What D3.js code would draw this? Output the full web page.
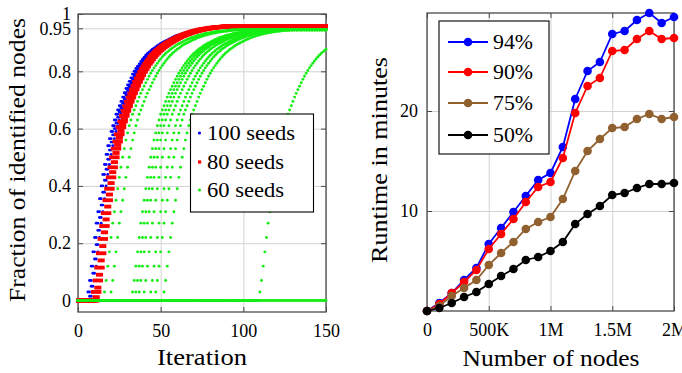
<!DOCTYPE html>
<html><head><meta charset="utf-8">
<script src="https://cdn.jsdelivr.net/npm/d3@7"></script>
<style>
body{margin:0;background:#fff}
svg{display:block}
</style>
</head><body>
<svg id="c" width="682" height="373"></svg>
<script>
// ===================== LEFT CHART DATA =====================
const iterations = d3.range(0, 151);
// fraction of identified nodes per iteration after a run's onset
const profile100a = [0,.03,.07,.12,.17,.22,.27,.31,.355,.40,.44,.475,.51,.54,.565,.59,.61,.63,.65,.665,.68,.695,.71,.725,.74,.752,.765,.777,.79,.80,.81,.818,.826,.834,.842,.849,.856,.862,.867,.872,.877,.881,.885,.889,.893,.897,.90,.903,.906,.909,.912,.915,.918,.921,.923,.925,.927,.929,.931,.933,.935,.936,.938,.939,.941,.942,.944,.945,.946,.947,.948,.949,.95,.95,.951,.952,.952,.953,.953,.954,.954,.954,.955];
const profile100b = [0,.015,.05,.095,.145,.195,.245,.29,.333,.378,.42,.458,.493,.525,.553,.578,.60,.62,.64,.658,.673,.688,.703,.718,.732,.746,.758,.771,.784,.795,.805,.814,.822,.83,.838,.846,.853,.859,.865,.87,.875,.879,.883,.887,.891,.895,.899,.902,.905,.908,.911,.914,.917,.92,.922,.924,.926,.928,.93,.932,.934,.936,.937,.939,.94,.942,.943,.944,.945,.946,.947,.948,.949,.95,.951,.951,.952,.953,.953,.954,.954,.955];
const profile80a = [0,.03,.07,.115,.165,.215,.26,.305,.35,.39,.43,.465,.50,.53,.555,.58,.605,.625,.645,.662,.678,.694,.709,.723,.737,.75,.763,.775,.787,.798,.808,.817,.826,.834,.842,.85,.857,.863,.869,.874,.879,.884,.888,.892,.896,.90,.903,.907,.91,.913,.916,.919,.922,.924,.927,.929,.931,.933,.935,.937,.939,.94,.942,.943,.945,.946,.947,.948,.949,.95,.951,.952,.952,.953,.954,.954,.955,.955,.956,.956,.957];
const profile80b = [0,.012,.045,.09,.14,.19,.238,.283,.328,.37,.41,.448,.483,.515,.543,.568,.592,.615,.635,.654,.67,.686,.701,.716,.73,.744,.757,.769,.781,.792,.803,.813,.821,.83,.838,.846,.853,.86,.866,.871,.876,.881,.886,.89,.894,.898,.901,.905,.908,.911,.914,.917,.92,.923,.925,.928,.93,.932,.934,.936,.938,.939,.941,.942,.944,.945,.946,.947,.948,.949,.95,.951,.952,.953,.953,.954,.955,.955,.956,.956,.957];
const profile60 = [0,.03,.07,.12,.17,.22,.27,.31,.35,.39,.43,.465,.50,.53,.56,.585,.61,.63,.65,.665,.68,.695,.71,.723,.736,.748,.76,.772,.783,.793,.803,.812,.82,.828,.836,.843,.85,.856,.862,.867,.872,.877,.881,.885,.889,.893,.896,.899,.902,.905,.908,.911,.913,.916,.918,.92,.922,.924,.926,.927,.929,.93,.932,.933,.934,.935,.936,.937,.938,.939,.94,.94,.941,.942,.942,.943,.943,.944,.944,.945];
// runs: iteration at which each run leaves 0 (null = never) and which profile it follows
const onsets100 = [5, 6, 6, 7, 8];
const profiles100 = [profile100a, profile100b, profile100a, profile100b, profile100a];
const onsets80 = [8, 9, 10, 11, 12];
const profiles80 = [profile80a, profile80b, profile80a, profile80b, profile80a];
const onsets60 = [15, 19, 32, 34, 36, 39, 43, 46, 51, 109, null];
const seedLabels = ["100 seeds", "80 seeds", "60 seeds"];
const leftXTicks = [0, 50, 100, 150];
const leftYTicks = [0, 0.2, 0.4, 0.6, 0.8, 0.95, 1];

// ===================== RIGHT CHART DATA =====================
const nodes = [0,100000,200000,300000,400000,500000,600000,700000,800000,900000,1000000,1100000,1200000,1300000,1400000,1500000,1600000,1700000,1800000,1900000,2000000];
const runtime94 = [0,0.8,1.8,3.1,4.3,6.7,8.3,9.9,11.5,13.1,13.8,16.4,21.2,24.0,24.9,27.7,28.0,29.1,29.8,28.8,29.4];
const runtime90 = [0,0.7,1.8,2.9,4.1,6.2,7.7,9.2,10.9,12.4,12.9,15.3,19.8,22.5,23.3,26.0,26.1,27.2,28.0,27.2,27.3];
const runtime75 = [0,0.5,1.5,2.3,3.1,4.6,5.8,6.9,8.2,8.9,9.4,11.2,14.0,16.0,17.2,18.3,18.4,19.2,19.7,19.2,19.4];
const runtime50 = [0,0.3,0.8,1.4,1.9,2.7,3.5,4.2,5.1,5.4,6.0,6.9,8.7,9.7,10.5,11.6,11.8,12.3,12.7,12.7,12.8];
const percentLabels = ["94%", "90%", "75%", "50%"];
const rightXTicks = [0, 500000, 1000000, 1500000, 2000000];
const rightXTickLabels = ["0", "500K", "1M", "1.5M", "2M"];
const rightYTicks = [10, 20];

// ===================== DRAWING =====================
const FONT = "Liberation Serif";
const TICK_FS = 18, LEG_FS = 22, LAB_FS = 24;
const svg = d3.select("#c");
const FRAME = "#4a4a4a", GRID = "#d2d2d2";
const BLUE = "#0000ff", RED = "#ff0000", GREEN = "#14ee14", BROWN = "#91602f", BLACK = "#000000";

function styleAxis(g) {
  g.attr("font-family", FONT).attr("font-size", TICK_FS);
  g.select(".domain").remove();
  g.selectAll(".tick line").attr("stroke", FRAME).attr("stroke-width", 1);
  g.selectAll(".tick text").attr("fill", "#000");
}
function frame(x, y, xTicks, yTicks, xFmt, yFmt, yPad) {
  const [x0, x1] = x.range(), [y0, y1] = y.range();
  const g = svg.append("g");
  g.append("g").attr("transform", `translate(0,${y0})`)
    .call(d3.axisBottom(x).tickValues(xTicks).tickSize(-(y0 - y1)).tickFormat(""))
    .call(a => { a.select(".domain").remove(); a.selectAll("line").attr("stroke", GRID).attr("stroke-width", 1); });
  g.append("g").attr("transform", `translate(${x0},0)`)
    .call(d3.axisLeft(y).tickValues(yTicks).tickSize(-(x1 - x0)).tickFormat(""))
    .call(a => { a.select(".domain").remove(); a.selectAll("line").attr("stroke", GRID).attr("stroke-width", 1); });
  g.append("g").attr("transform", `translate(0,${y0})`)
    .call(d3.axisBottom(x).tickValues(xTicks).tickSizeInner(-5).tickSizeOuter(0).tickPadding(12).tickFormat(xFmt))
    .call(styleAxis);
  g.append("g").attr("transform", `translate(0,${y1})`)
    .call(d3.axisTop(x).tickValues(xTicks).tickSizeInner(-5).tickSizeOuter(0).tickFormat(""))
    .call(styleAxis);
  g.append("g").attr("transform", `translate(${x0},0)`)
    .call(d3.axisLeft(y).tickValues(yTicks).tickSizeInner(-5).tickSizeOuter(0).tickPadding(yPad).tickFormat(yFmt))
    .call(styleAxis);
  g.append("g").attr("transform", `translate(${x1},0)`)
    .call(d3.axisRight(y).tickValues(yTicks).tickSizeInner(-5).tickSizeOuter(0).tickFormat(""))
    .call(styleAxis);
  g.append("rect").attr("x", x0).attr("y", y1).attr("width", x1 - x0).attr("height", y0 - y1)
    .attr("fill", "none").attr("stroke", FRAME).attr("stroke-width", 1.3);
}

// ---------- left ----------
const xL = d3.scaleLinear().domain([0, 150]).range([78, 326]);
const yL = d3.scaleLinear().domain([-0.04, 1]).range([312, 14]);
frame(xL, yL, leftXTicks, leftYTicks, d3.format("d"), d => d3.format("")(d), 7);

function runSeries(profile, onset) {
  return iterations.map(t => ({ t, v: (onset === null || t < onset) ? 0 : profile[Math.min(t - onset, profile.length - 1)] }));
}
const gData = svg.append("g");
onsets100.forEach((o, k) => {
  gData.append("g").selectAll("circle").data(runSeries(profiles100[k], o)).join("circle")
    .attr("cx", d => xL(d.t)).attr("cy", d => yL(d.v)).attr("r", 1.45).attr("fill", BLUE);
});
onsets80.forEach((o, k) => {
  gData.append("g").selectAll("rect").data(runSeries(profiles80[k], o)).join("rect")
    .attr("x", d => xL(d.t) - 1.9).attr("y", d => yL(d.v) - 1.9).attr("width", 3.8).attr("height", 3.8).attr("fill", RED);
});
onsets60.forEach(o => {
  gData.append("g").selectAll("circle").data(runSeries(profile60, o)).join("circle")
    .attr("cx", d => xL(d.t)).attr("cy", d => yL(d.v)).attr("r", 1.45).attr("fill", GREEN);
});

// left legend
const lg = svg.append("g");
lg.append("rect").attr("x", 190.5).attr("y", 114).attr("width", 123).attr("height", 98)
  .attr("fill", "#fff").attr("stroke", "#000").attr("stroke-width", 1.1);
const legRowsL = [133, 162, 190];
lg.append("circle").attr("cx", 199.5).attr("cy", legRowsL[0]).attr("r", 1.6).attr("fill", BLUE);
lg.append("rect").attr("x", 198).attr("y", legRowsL[1] - 1.6).attr("width", 3.2).attr("height", 3.2).attr("fill", RED);
lg.append("circle").attr("cx", 199.5).attr("cy", legRowsL[2]).attr("r", 1.6).attr("fill", GREEN);
seedLabels.forEach((s, i) => {
  lg.append("text").attr("x", 207).attr("y", legRowsL[i]).attr("dy", "0.33em").attr("font-size", LEG_FS)
    .attr("textLength", [88, 77, 77][i]).attr("lengthAdjust", "spacingAndGlyphs").text(s);
});

svg.append("text").attr("x", 202).attr("y", 365).attr("text-anchor", "middle").attr("font-size", LAB_FS)
  .attr("textLength", 90).attr("lengthAdjust", "spacingAndGlyphs").text("Iteration");
svg.append("text").attr("transform", "translate(25,160) rotate(-90)").attr("text-anchor", "middle").attr("font-size", LAB_FS)
  .attr("textLength", 284).attr("lengthAdjust", "spacingAndGlyphs").text("Fraction of identified nodes");

// ---------- right ----------
const xR = d3.scaleLinear().domain([0, 2000000]).range([427, 674]);
const yR = d3.scaleLinear().domain([0, 29.8]).range([311, 13]);
frame(xR, yR, rightXTicks, rightYTicks, (d, i) => rightXTickLabels[i], d3.format("d"), 9);

const seriesR = [
  { vals: runtime94, color: BLUE },
  { vals: runtime90, color: RED },
  { vals: runtime75, color: BROWN },
  { vals: runtime50, color: BLACK }
];
const line = d3.line().x((d, i) => xR(nodes[i])).y(d => yR(d));
seriesR.forEach(s => {
  const g = svg.append("g");
  g.append("path").attr("d", line(s.vals)).attr("fill", "none").attr("stroke", s.color).attr("stroke-width", 1.8);
  g.selectAll("circle").data(s.vals).join("circle")
    .attr("cx", (d, i) => xR(nodes[i])).attr("cy", d => yR(d)).attr("r", 4.3).attr("fill", s.color);
});

// right legend
const rg = svg.append("g");
rg.append("rect").attr("x", 439).attr("y", 21).attr("width", 110).attr("height", 133)
  .attr("fill", "#fff").attr("stroke", "#000").attr("stroke-width", 1.1);
const legRowsR = [42, 72, 103, 135];
seriesR.forEach((s, i) => {
  rg.append("line").attr("x1", 448).attr("x2", 488).attr("y1", legRowsR[i]).attr("y2", legRowsR[i])
    .attr("stroke", s.color).attr("stroke-width", 1.8);
  rg.append("circle").attr("cx", 468).attr("cy", legRowsR[i]).attr("r", 4.3).attr("fill", s.color);
  rg.append("text").attr("x", 493).attr("y", legRowsR[i]).attr("dy", "0.33em").attr("font-size", LEG_FS)
    .attr("textLength", 40).attr("lengthAdjust", "spacingAndGlyphs").text(percentLabels[i]);
});

svg.append("text").attr("x", 551).attr("y", 366).attr("text-anchor", "middle").attr("font-size", LAB_FS)
  .attr("textLength", 177).attr("lengthAdjust", "spacingAndGlyphs").text("Number of nodes");
svg.append("text").attr("transform", "translate(387,160) rotate(-90)").attr("text-anchor", "middle").attr("font-size", LAB_FS)
  .attr("textLength", 206).attr("lengthAdjust", "spacingAndGlyphs").text("Runtime in minutes");

svg.selectAll("text").attr("font-family", FONT).attr("fill", "#000");
</script>
</body></html>
